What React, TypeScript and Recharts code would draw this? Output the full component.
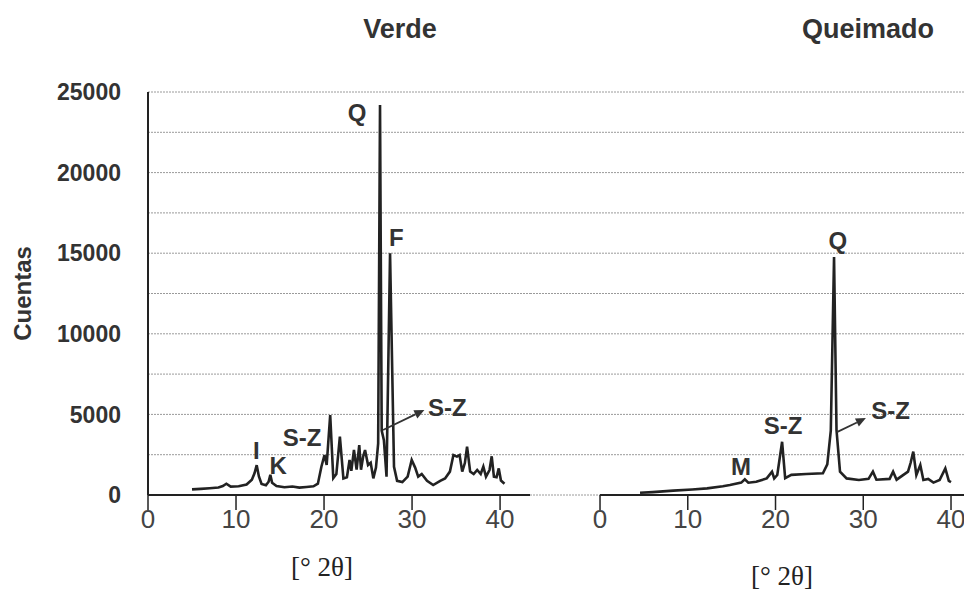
import {
  LineChart,
  Line,
  XAxis,
  YAxis,
  CartesianGrid,
  ReferenceDot,
  ReferenceLine,
  Label,
} from "recharts";

// Diffractogram, green (unfired) sample: angle [°2θ] and counts
const verdeAngle = [
  5.0, 6.0, 7.0, 8.0, 8.5, 8.9, 9.4, 10.3, 11.2, 11.8, 12.1, 12.35, 12.6, 12.9,
  13.4, 13.7, 13.9, 14.1, 14.6, 15.5, 16.4, 17.2, 18.0, 18.8, 19.3, 19.7, 20.05,
  20.3, 20.7, 21.05, 21.4, 21.8, 22.2, 22.6, 22.9, 23.1, 23.4, 23.7, 24.0, 24.2,
  24.45, 24.66, 25.0, 25.3, 25.6, 25.9, 26.15, 26.36, 26.55, 26.8, 27.1, 27.5,
  27.95, 28.3, 28.9, 29.5, 29.96, 30.35, 30.7, 31.1, 31.7, 32.4, 33.2, 33.75,
  34.3, 34.7, 35.1, 35.4, 35.7, 36.0, 36.25, 36.6, 37.0, 37.4, 37.8, 38.1, 38.4,
  38.8, 39.05, 39.3, 39.6, 39.85, 40.1, 40.5,
];
const verdeCounts = [
  350, 380, 420, 470, 560, 700, 520, 540, 650, 950, 1350, 1850, 1150, 680, 600,
  820, 1250, 760, 560, 480, 530, 460, 500, 540, 700, 1750, 2480, 1860, 4960,
  1050, 1300, 3620, 1030, 1100, 2170, 1500, 2790, 1570, 3100, 1570, 2400, 2790,
  1860, 2000, 1030, 1700, 3200, 24200, 4000, 3400, 1140, 15000, 1750, 880, 800,
  1140, 2170, 1700, 1140, 1300, 880, 620, 880, 1030, 1450, 2480, 2380, 2480,
  1450, 1980, 3000, 1450, 1300, 1550, 1300, 1760, 1140, 1550, 2400, 1140, 1100,
  1650, 900, 700,
];

// Diffractogram, fired sample
const queimadoAngle = [
  4.56, 6.0, 8.35, 10.5, 12.2, 14.0, 14.8, 16.1, 16.5, 16.9, 17.8, 19.0, 19.6,
  19.85, 20.2, 20.75, 21.1, 21.8, 23.5, 25.4, 25.9, 26.3, 26.67, 26.95, 27.35,
  28.1, 29.5, 30.6, 31.1, 31.5, 33.0, 33.4, 33.8, 35.1, 35.4, 35.7, 36.05, 36.5,
  36.85, 37.4, 38.0, 38.7, 39.35, 39.75, 40.0,
];
const queimadoCounts = [
  140, 180, 270, 340, 410, 540, 620, 770, 970, 760, 820, 1030, 1450, 1030, 1240,
  3300, 1050, 1250, 1300, 1350, 1900, 4000, 14760, 4030, 1450, 1030, 930, 1000,
  1450, 950, 1000, 1450, 950, 1450, 2000, 2690, 1240, 1860, 930, 1000, 770, 930,
  1650, 880, 800,
];

const angleTicks = [0, 10, 20, 30, 40];
const countTicks = [
  0, 2500, 5000, 7500, 10000, 12500, 15000, 17500, 20000, 22500, 25000,
];

// phase labels: text, angle, counts
const verdeLabelText = ["Q", "F", "I", "K", "S-Z", "S-Z"];
const verdeLabelAngle = [23.75, 28.2, 12.3, 14.8, 17.5, 34.0];
const verdeLabelCounts = [23700, 15950, 2790, 1850, 3580, 5400];
const verdeArrowAngle = [26.7, 31.4];
const verdeArrowCounts = [4030, 5270];

const queimadoLabelText = ["Q", "S-Z", "M", "S-Z"];
const queimadoLabelAngle = [27.1, 20.85, 16.07, 33.1];
const queimadoLabelCounts = [15800, 4340, 1800, 5270];
const queimadoArrowAngle = [27.0, 30.3];
const queimadoArrowCounts = [3900, 4770];

const verdeData = verdeAngle.map((angle, i) => ({ angle, counts: verdeCounts[i] }));
const queimadoData = queimadoAngle.map((angle, i) => ({
  angle,
  counts: queimadoCounts[i],
}));

const W = 964;
const H = 599;
const INK = "#222";
const LABEL = "#333";
const GRID = "#9a9a9a";
const SANS = "'Liberation Sans', Arial, sans-serif";
const NARROW = "'Liberation Sans Narrow', 'Liberation Sans', sans-serif";
const SERIF = "'Liberation Serif', 'Times New Roman', serif";

function Arrow(props: any) {
  const { x1, y1, x2, y2 } = props;
  const a = Math.atan2(y2 - y1, x2 - x1);
  const len = 10;
  const half = 4.5;
  const bx = x2 - len * Math.cos(a);
  const by = y2 - len * Math.sin(a);
  const pts = `${x2},${y2} ${bx + half * Math.sin(a)},${by - half * Math.cos(a)} ${
    bx - half * Math.sin(a)
  },${by + half * Math.cos(a)}`;
  return (
    <g>
      <line x1={x1} y1={y1} x2={bx} y2={by} stroke={LABEL} strokeWidth={1.8} />
      <polygon points={pts} fill={LABEL} />
    </g>
  );
}

const axisTitle = (dx: number, bottom: number) => (props: any) => {
  const vb = props.viewBox;
  return (
    <text
      x={vb.x + vb.width / 2 + dx}
      y={vb.y + vb.height - bottom}
      textAnchor="middle"
      fill={INK}
      fontFamily={SERIF}
      fontSize={27}
    >
      [° 2θ]
    </text>
  );
};

const countsTitle = (props: any) => {
  const vb = props.viewBox;
  const x = vb.x + 22;
  const y = vb.y + vb.height / 2;
  return (
    <text
      x={x}
      y={y}
      transform={`rotate(-90 ${x} ${y})`}
      textAnchor="middle"
      dominantBaseline="central"
      fill={LABEL}
      fontFamily={SANS}
      fontWeight={700}
      fontSize={24}
    >
      Cuentas
    </text>
  );
};

function peakLabels(texts: string[], angles: number[], counts: number[]) {
  return texts.map((t, i) => (
    <ReferenceDot
      key={`${t}-${i}`}
      x={angles[i]}
      y={counts[i]}
      r={0}
      fill="none"
      stroke="none"
      label={{
        value: t,
        position: "center",
        fill: LABEL,
        fontSize: 24,
        fontWeight: 700,
        fontFamily: SANS,
      }}
    />
  ));
}

const tickStyle = { fill: "#444", fontSize: 26, fontFamily: NARROW };

export default function App() {
  return (
    <div
      style={{
        position: "absolute",
        left: 0,
        top: 0,
        width: W,
        height: H,
        background: "#fff",
        overflow: "hidden",
      }}
    >
      {/* green sample: y axis + left panel */}
      <div style={{ position: "absolute", left: 0, top: 0 }}>
        <LineChart
          width={W}
          height={H}
          data={verdeData}
          margin={{ top: 92, right: 434, bottom: 0, left: 0 }}
        >
          <CartesianGrid vertical={false} stroke={GRID} strokeDasharray="2 1" />
          <XAxis
            type="number"
            dataKey="angle"
            domain={[0, 43.4]}
            ticks={angleTicks}
            interval={0}
            allowDataOverflow
            height={104}
            axisLine={{ stroke: INK, strokeWidth: 2 }}
            tickLine={{ stroke: INK, strokeWidth: 1.5 }}
            tickSize={15}
            tickMargin={0}
            tick={tickStyle}
          >
            <Label content={axisTitle(-17, 23)} />
          </XAxis>
          <YAxis
            type="number"
            domain={[0, 25000]}
            ticks={countTicks}
            interval={0}
            width={148}
            tickFormatter={(v: number) => (v % 5000 === 0 ? String(v) : "")}
            axisLine={{ stroke: INK, strokeWidth: 2 }}
            tickLine={false}
            tickSize={6}
            tickMargin={21}
            tick={{ fill: LABEL, fontSize: 23, fontWeight: 700, fontFamily: SANS }}
          >
            <Label content={countsTitle} />
          </YAxis>
          <Line
            type="linear"
            dataKey="counts"
            stroke={INK}
            strokeWidth={2.6}
            dot={false}
            isAnimationActive={false}
          />
          {peakLabels(verdeLabelText, verdeLabelAngle, verdeLabelCounts)}
          <ReferenceLine
            segment={[
              { x: verdeArrowAngle[0], y: verdeArrowCounts[0] },
              { x: verdeArrowAngle[1], y: verdeArrowCounts[1] },
            ]}
            shape={Arrow}
          />
        </LineChart>
      </div>

      {/* fired sample: right panel */}
      <div style={{ position: "absolute", left: 0, top: 0 }}>
        <LineChart
          width={W}
          height={H}
          data={queimadoData}
          margin={{ top: 92, right: 0, bottom: 0, left: 530 }}
        >
          <CartesianGrid vertical={false} stroke={GRID} strokeDasharray="2 1" />
          <XAxis
            type="number"
            dataKey="angle"
            domain={[-7.98, 41.48]}
            ticks={angleTicks}
            interval={0}
            allowDataOverflow
            height={104}
            axisLine={false}
            tickLine={{ stroke: INK, strokeWidth: 1.5 }}
            tickSize={15}
            tickMargin={0}
            tick={tickStyle}
          >
            <Label content={axisTitle(35, 14)} />
          </XAxis>
          <YAxis
            hide
            type="number"
            domain={[0, 25000]}
            ticks={countTicks.slice(1)}
            width={0}
          />
          <ReferenceLine
            segment={[
              { x: 0, y: 0 },
              { x: 41.48, y: 0 },
            ]}
            stroke={INK}
            strokeWidth={2}
          />
          <Line
            type="linear"
            dataKey="counts"
            stroke={INK}
            strokeWidth={2.6}
            dot={false}
            isAnimationActive={false}
          />
          {peakLabels(queimadoLabelText, queimadoLabelAngle, queimadoLabelCounts)}
          <ReferenceLine
            segment={[
              { x: queimadoArrowAngle[0], y: queimadoArrowCounts[0] },
              { x: queimadoArrowAngle[1], y: queimadoArrowCounts[1] },
            ]}
            shape={Arrow}
          />
        </LineChart>
      </div>

      <div
        style={{
          position: "absolute",
          left: 300,
          width: 200,
          top: 14,
          textAlign: "center",
          fontFamily: SANS,
          fontWeight: 700,
          fontSize: 27,
          color: LABEL,
        }}
      >
        Verde
      </div>
      <div
        style={{
          position: "absolute",
          left: 768,
          width: 200,
          top: 14,
          textAlign: "center",
          fontFamily: SANS,
          fontWeight: 700,
          fontSize: 27,
          color: LABEL,
        }}
      >
        Queimado
      </div>
    </div>
  );
}
